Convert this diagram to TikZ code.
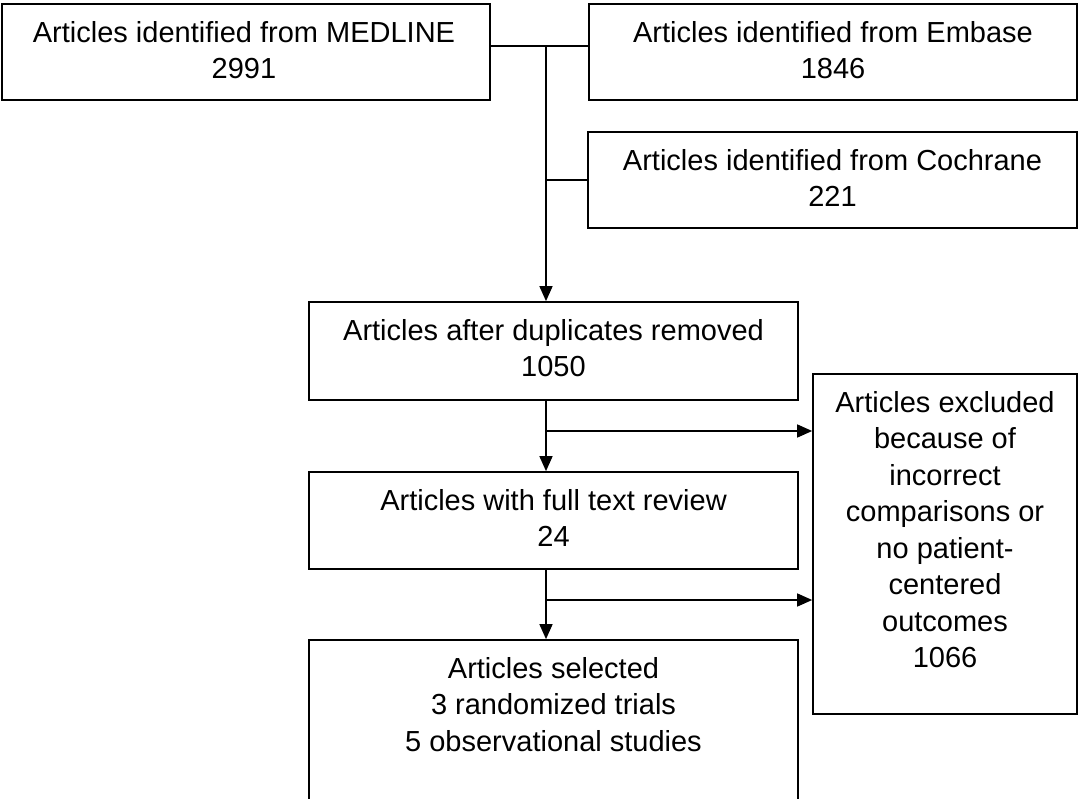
\documentclass[tikz,border=0pt]{standalone}
\usepackage{fontspec}
\setmainfont{Liberation Sans}
\usetikzlibrary{arrows.meta}
\begin{document}
\begin{tikzpicture}[x=1pt,y=-1pt,
  box/.style={draw=black, line width=1.7pt, rectangle, inner sep=0pt},
  lbl/.style={anchor=north, inner sep=0pt, align=center, font=\fontsize{29}{36.5}\selectfont},
  conn/.style={line width=1.5pt},
  arr/.style={conn, -{Triangle[length=15pt,width=13pt]}}]
\useasboundingbox (0,0) rectangle (1078,799);
\clip (0,0) rectangle (1078,799);
% boxes
\node[box, minimum width=488pt, minimum height=96pt] (med) at (246,52) {};
\node[box, minimum width=488pt, minimum height=96pt] (emb) at (833,52) {};
\node[box, minimum width=489pt, minimum height=96pt] (coch) at (832.5,180) {};
\node[box, minimum width=489pt, minimum height=98pt] (dup) at (553.5,351) {};
\node[box, minimum width=489pt, minimum height=97pt] (full) at (553.5,520.5) {};
\node[box, minimum width=489pt, minimum height=180pt] (sel) at (553.5,730) {};
\node[box, minimum width=264pt, minimum height=340pt] (exc) at (945,544) {};
% labels
\node[lbl] (medT) at (244,21) {Articles identified from MEDLINE\\2991};
\node[lbl] (embT) at (833,21) {Articles identified from Embase\\1846};
\node[lbl] (cochT) at (832.5,149) {Articles identified from Cochrane\\221};
\node[lbl] (dupT) at (553.5,319) {Articles after duplicates removed\\1050};
\node[lbl] (fullT) at (553.5,489) {Articles with full text review\\24};
\node[lbl] (selT) at (553.5,657) {Articles selected\\3 randomized trials\\5 observational studies};
\node[lbl] (excT) at (945,391) {Articles excluded\\because of\\incorrect\\comparisons or\\no patient-\\centered\\outcomes\\1066};
% junctions
\coordinate (j1) at (546,46);
\coordinate (j2) at (546,431);
\coordinate (j3) at (546,600);
% connectors
\draw[conn] (med.east |- j1) -- (emb.west |- j1);
\draw[conn] (j1 |- coch.west) -- (coch.west);
\draw[arr] (j1) -- (j1 |- dup.north);
\draw[arr] (j1 |- dup.south) -- (j1 |- full.north);
\draw[arr] (j2) -- (exc.west |- j2);
\draw[arr] (j1 |- full.south) -- (j1 |- sel.north);
\draw[arr] (j3) -- (exc.west |- j3);
\end{tikzpicture}
\end{document}
